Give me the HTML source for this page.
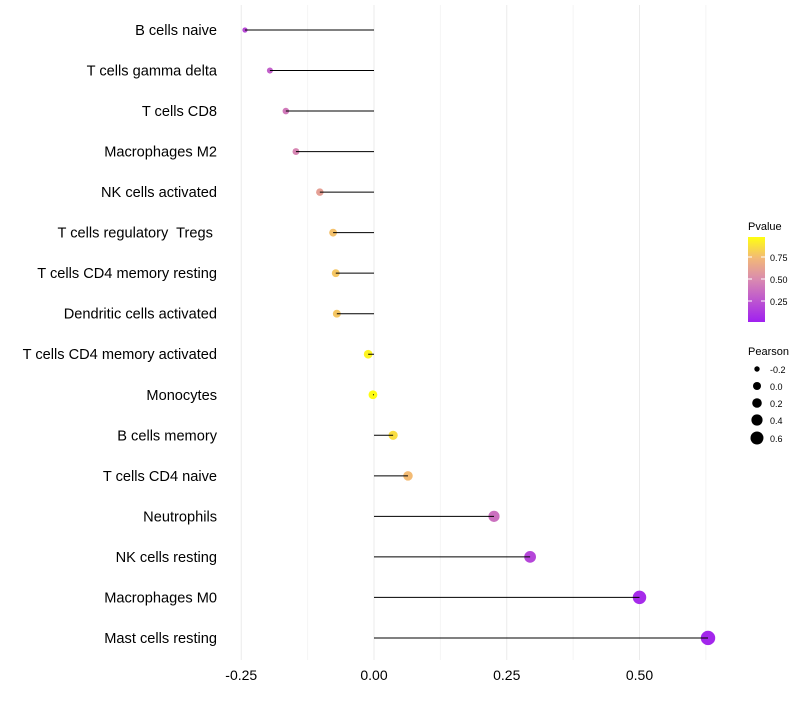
<!DOCTYPE html>
<html><head><meta charset="utf-8"><style>
body{margin:0;background:#fff;font-family:"Liberation Sans",sans-serif;}
text{white-space:pre;}
</style></head><body>
<svg id="chart" width="800" height="700" xmlns="http://www.w3.org/2000/svg">
<defs><linearGradient id="pg" x1="0" y1="1" x2="0" y2="0">
<stop offset="0" stop-color="#a020f0"/><stop offset="0.5" stop-color="#d98ab0"/><stop offset="0.75" stop-color="#f2b878"/><stop offset="1" stop-color="#ffff10"/></linearGradient></defs>
<g id="grid"></g><g id="marks"></g><g id="labels"></g>
<g font-size="10" fill="#000">
<text x="748" y="230" font-size="11">Pvalue</text>
<rect x="748" y="237" width="17" height="85" fill="url(#pg)"/>
<line x1="748" y1="257" x2="752" y2="257" stroke="#fff"/><line x1="761" y1="257" x2="765" y2="257" stroke="#fff"/>
<line x1="748" y1="279" x2="752" y2="279" stroke="#fff"/><line x1="761" y1="279" x2="765" y2="279" stroke="#fff"/>
<line x1="748" y1="301" x2="752" y2="301" stroke="#fff"/><line x1="761" y1="301" x2="765" y2="301" stroke="#fff"/>
<text x="770" y="261" font-size="9">0.75</text><text x="770" y="283" font-size="9">0.50</text><text x="770" y="305" font-size="9">0.25</text>
</g>
<g fill="#000">
<text x="748" y="355" font-size="11">Pearson</text>
<circle cx="757" cy="369" r="2.7"/><text x="770" y="373" font-size="9">-0.2</text>
<circle cx="757" cy="386" r="4"/><text x="770" y="390" font-size="9">0.0</text>
<circle cx="757" cy="403" r="4.8"/><text x="770" y="407" font-size="9">0.2</text>
<circle cx="757" cy="420" r="5.6"/><text x="770" y="424" font-size="9">0.4</text>
<circle cx="757" cy="438" r="6.5"/><text x="770" y="442" font-size="9">0.6</text>
</g>
</svg>
<script>
const categories=["B cells naive","T cells gamma delta","T cells CD8","Macrophages M2","NK cells activated","T cells regulatory  Tregs ","T cells CD4 memory resting","Dendritic cells activated","T cells CD4 memory activated","Monocytes","B cells memory","T cells CD4 naive","Neutrophils","NK cells resting","Macrophages M0","Mast cells resting"];
const pearson=[-0.243,-0.196,-0.166,-0.147,-0.102,-0.077,-0.072,-0.070,-0.011,-0.002,0.036,0.064,0.226,0.294,0.50,0.629];
const pvalues=[0.2,0.3,0.42,0.48,0.62,0.78,0.8,0.8,0.96,0.99,0.88,0.76,0.38,0.18,0.05,0.03];
const xTicks=[-0.25,0,0.25,0.5];
const xTickLabels=["-0.25","0.00","0.25","0.50"];
const NS="http://www.w3.org/2000/svg";
const xs=v=>374+v*531;
const ys=i=>30+i*40.53;
function col(p){const st=[[0,[160,32,240]],[0.5,[217,138,176]],[0.75,[242,184,120]],[1,[255,255,16]]];
for(let k=1;k<st.length;k++){if(p<=st[k][0]){const a=st[k-1],b=st[k],t=(p-a[0])/(b[0]-a[0]);return "rgb("+a[1].map((c,j)=>Math.round(c+(b[1][j]-c)*t)).join(",")+")";}}return "rgb(255,255,16)";}
function mk(tag,at,parent){const e=document.createElementNS(NS,tag);for(const k in at)e.setAttribute(k,at[k]);parent.appendChild(e);return e;}
const grid=document.getElementById("grid"),marks=document.getElementById("marks"),labels=document.getElementById("labels");
for(let i=0;i<xTicks.length;i++){
 const g=mk("line",{x1:xs(xTicks[i]),x2:xs(xTicks[i]),y1:5,y2:660,stroke:"#ebebeb","stroke-width":1},grid);
 
 
 const m=mk("line",{x1:xs(xTicks[i]+0.125),x2:xs(xTicks[i]+0.125),y1:5,y2:660,stroke:"#f4f4f4","stroke-width":1},grid);
 
 
 const t=mk("text",{x:xs(xTicks[i]),y:680,"text-anchor":"middle","font-size":14,fill:"#000"},labels);
 t.textContent=xTickLabels[i];
 
 
}
for(let i=0;i<categories.length;i++){
 const y=ys(i);
 const t=mk("text",{x:217,y:y+5,"text-anchor":"end","font-size":14.6,fill:"#000"},labels);
 t.textContent=categories[i];
 
 
 const r=Math.sqrt(Math.max(4,9+(pearson[i]+0.2)*52));
 const c=mk("circle",{cx:xs(pearson[i]),cy:y,r:r,fill:col(pvalues[i])},marks);
 
 
 const l=mk("line",{x1:xs(0),x2:xs(pearson[i]),y1:y,y2:y,stroke:"#000","stroke-width":1},marks);
 
 
}
</script>
</body></html>
